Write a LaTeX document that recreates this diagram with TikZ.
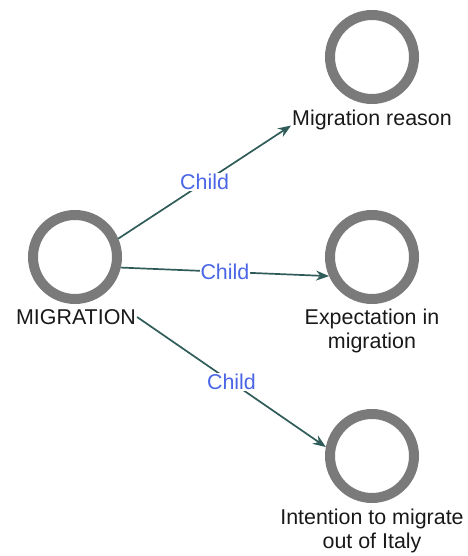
\documentclass[tikz,border=0pt]{standalone}
\usepackage{fontspec}
\setmainfont{Liberation Sans}
\usetikzlibrary{arrows.meta}
\definecolor{ringgray}{HTML}{7A7A7A}
\definecolor{edgeteal}{HTML}{2F5C58}
\definecolor{labelblue}{HTML}{4A66E6}
\tikzset{
  concept/.style={circle, draw=ringgray, line width=10bp, minimum size=84bp, inner sep=0pt, outer sep=5bp},
  caption/.style={font=\fontsize{21.5}{25}\selectfont, text=black!90, align=center, inner sep=1bp},
  childlink/.style={draw=edgeteal, line width=1.7bp, -{Stealth[length=13bp,width=10bp]}},
  childlabel/.style={font=\fontsize{21.5}{25}\selectfont, text=labelblue, fill=white, inner sep=1bp}
}
\begin{document}
\begin{tikzpicture}[x=1bp,y=-1bp]
  \useasboundingbox (0,0) rectangle (468,556);
  % concepts
  \node[concept] (mig) at (75,257) {};
  \node[caption] (miglab) at (76,317) {MIGRATION};
  \node[concept] (reason) at (372,57) {};
  \node[caption] (reasonlab) at (372,120) {Migration reason};
  \node[concept] (expect) at (372,257) {};
  \node[caption] (expectlab) at (372,331) {Expectation in\\migration};
  \node[concept] (intent) at (372,456) {};
  \node[caption] (intentlab) at (372,531) {Intention to migrate\\out of Italy};
  % child relations
  \path[childlink] (mig.23) -- node[childlabel] {Child} (reasonlab.base west);
  \path[childlink] (mig.-13) -- node[childlabel] {Child} (expect.204);
  \path[childlink] (miglab.east) -- node[childlabel] {Child} (intent.169);
\end{tikzpicture}
\end{document}
